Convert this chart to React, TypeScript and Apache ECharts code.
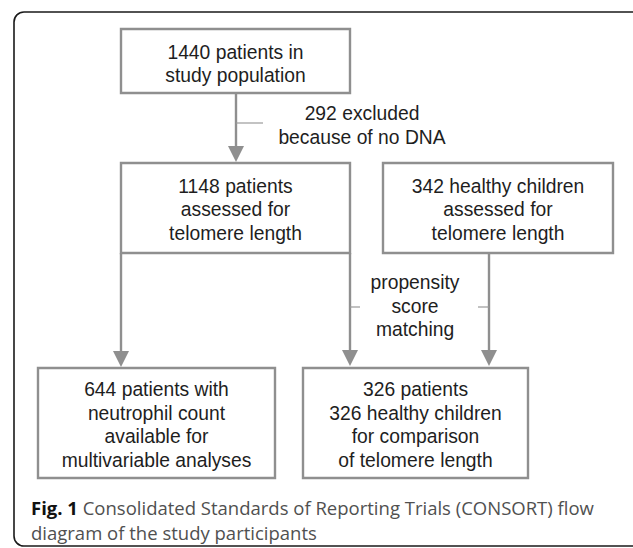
import React, { useEffect, useRef } from "react";
import * as echarts from "echarts";

// ---- Content (flow diagram texts / counts) ----
const box1Lines = ["1440 patients in", "study population"];
const exclusionLines = ["292 excluded", "because of no DNA"];
const box2Lines = ["1148 patients", "assessed for", "telomere length"];
const box3Lines = ["342 healthy children", "assessed for", "telomere length"];
const matchingLines = ["propensity", "score", "matching"];
const box4Lines = ["644 patients with", "neutrophil count", "available for", "multivariable analyses"];
const box5Lines = ["326 patients", "326 healthy children", "for comparison", "of telomere length"];
const captionBold = "Fig. 1";
const captionLines = [
  " Consolidated Standards of Reporting Trials (CONSORT) flow",
  "diagram of the study participants",
];

const BOX_STROKE = "#8f8f8f";
const TEXT_COLOR = "#1e1e1e";
const FONT = "'Liberation Sans', Arial, Helvetica, sans-serif";
const FS = 19.3;

function textLines(lines: string[], cx: number, ys: number[]) {
  return lines.map((t, i) => ({
    type: "text",
    x: cx,
    y: ys[i],
    style: {
      text: t,
      x: 0,
      y: 0,
      align: "center",
      verticalAlign: "middle",
      fill: TEXT_COLOR,
      font: `${FS}px ${FONT}`,
    },
  }));
}

function box(x: number, y: number, w: number, h: number) {
  return {
    type: "rect",
    shape: { x, y, width: w, height: h },
    style: { fill: "#fff", stroke: BOX_STROKE, lineWidth: 2.4 },
  };
}

function arrow(x: number, y1: number, tip: number) {
  const hh = 16;
  return [
    {
      type: "line",
      shape: { x1: x, y1, x2: x, y2: tip - hh + 1 },
      style: { stroke: BOX_STROKE, lineWidth: 2.4 },
    },
    {
      type: "polygon",
      shape: { points: [[x - 8, tip - hh], [x + 8, tip - hh], [x, tip]] },
      style: { fill: BOX_STROKE },
    },
  ];
}

function tick(x1: number, x2: number, y: number) {
  return {
    type: "line",
    shape: { x1, y1: y, x2, y2: y },
    style: { stroke: "#9a9a9a", lineWidth: 1.2 },
  };
}

export default function App() {
  const ref = useRef<HTMLDivElement>(null);
  useEffect(() => {
    if (!ref.current) return;
    const chart = echarts.init(ref.current, null, { renderer: "svg" });
    const capFont = "18.5px 'Open Sans', sans-serif";
    const elements: any[] = [
      {
        type: "rect",
        shape: { x: 14, y: 12, width: 660, height: 534, r: 10 },
        style: { fill: "#fff", stroke: "#1a1a1a", lineWidth: 1.6 },
      },
      box(121, 29, 229, 64),
      ...textLines(box1Lines, 235.5, [52, 75]),
      ...arrow(236, 93, 162),
      tick(236, 263, 123),
      ...textLines(exclusionLines, 362, [113, 137]),
      box(121, 163, 229, 90),
      ...textLines(box2Lines, 235.5, [186, 209.5, 233]),
      box(383, 163, 230, 90),
      ...textLines(box3Lines, 498, [186, 209.5, 233]),
      ...arrow(121, 253, 367),
      ...arrow(350, 253, 366),
      ...arrow(489, 253, 366),
      tick(350, 360, 307),
      tick(478, 489, 307),
      ...textLines(matchingLines, 415, [282, 306, 329.5]),
      box(38, 368, 237, 110),
      ...textLines(box4Lines, 156.5, [389, 413, 436.5, 460]),
      box(303, 368, 225, 110),
      ...textLines(box5Lines, 415.5, [389, 413, 436.5, 460]),
      {
        type: "text",
        x: 31,
        y: 507,
        style: {
          text: `{b|${captionBold}}{r|${captionLines[0]}}`,
          x: 0,
          y: 0,
          verticalAlign: "middle",
          rich: {
            b: { font: "bold " + capFont, fill: "#111" },
            r: { font: capFont, fill: "#505050" },
          },
        },
      },
      {
        type: "text",
        x: 31,
        y: 532,
        style: {
          text: captionLines[1],
          x: 0,
          y: 0,
          verticalAlign: "middle",
          fill: "#505050",
          font: capFont,
        },
      },
    ];
    chart.setOption({
      animation: false,
      backgroundColor: "#fff",
      graphic: { elements },
    });
    return () => chart.dispose();
  }, []);
  return (
    <div
      ref={ref}
      style={{ position: "fixed", left: 0, top: 0, width: 633, height: 548, background: "#fff" }}
    />
  );
}
